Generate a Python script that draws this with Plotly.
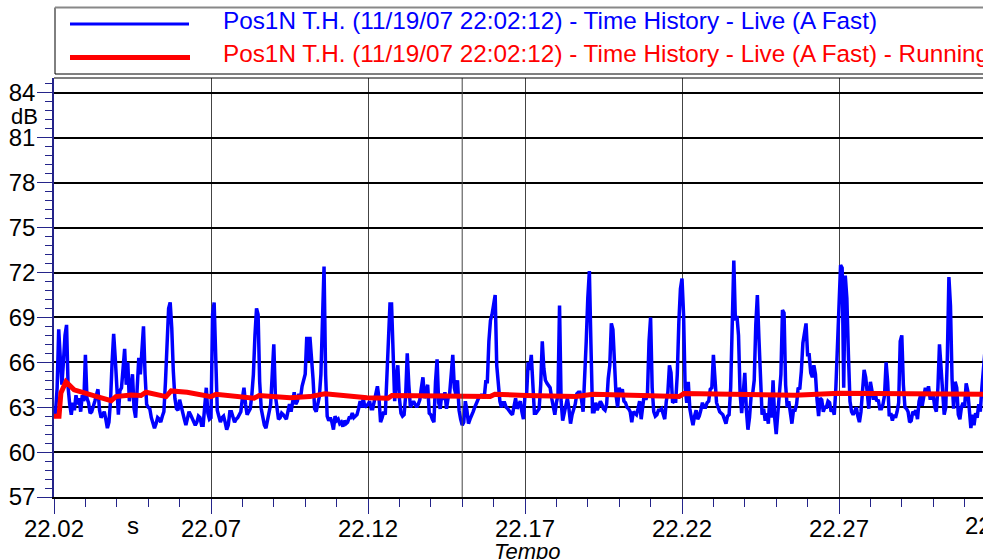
import plotly.graph_objects as go

# ---------------- data ----------------
SAMPLE_START = 22.020   # s
SAMPLE_STEP = 0.0005    # s, sampling interval of the time history

LIVE_DB = [
    62.3, 62.7, 64.3, 68.2, 66.3, 64.5, 66.0, 67.8, 68.5, 64.3,
    63.2, 62.5, 63.3, 62.8, 63.8, 63.2, 63.6, 62.7, 63.8, 63.4,
    66.5, 63.6, 63.3, 62.6, 62.7, 63.0, 63.4, 63.8, 64.2, 62.8,
    62.3, 62.5, 62.7, 62.2, 61.6, 62.0, 63.4, 66.0, 67.9, 66.3,
    63.8, 62.5, 64.1, 64.3, 65.6, 66.9, 64.5, 66.0, 63.4, 64.3,
    65.2, 62.9, 62.3, 64.3, 66.3, 65.2, 66.9, 68.4, 65.2, 63.2,
    63.0, 62.9, 62.3, 61.9, 61.6, 61.9, 62.3, 62.2, 62.0, 62.4,
    62.7, 64.7, 66.9, 69.6, 70.0, 68.3, 65.4, 63.6, 62.9, 62.8,
    63.5, 63.0, 62.5, 62.2, 61.8, 62.3, 62.7, 62.5, 62.3, 62.0,
    61.8, 62.0, 62.4, 62.3, 61.8, 61.8, 63.4, 64.3, 62.6, 62.2,
    62.3, 69.2, 70.0, 66.0, 62.8, 62.4, 62.0, 62.3, 62.4, 62.0,
    61.5, 61.8, 62.7, 62.7, 62.3, 62.0, 62.2, 62.3, 62.5, 62.7,
    63.6, 64.3, 63.2, 62.5, 62.7, 62.9, 63.8, 65.2, 67.8, 69.6,
    69.2, 64.7, 62.9, 62.2, 61.8, 61.6, 62.2, 62.7, 63.2, 65.2,
    67.2, 63.8, 62.7, 62.2, 62.3, 62.6, 62.5, 62.3, 62.2, 62.7,
    63.2,
    62.7, 63.6, 64.0, 63.2, 63.4, 63.9, 63.6, 64.4, 64.8, 65.2,
    67.7, 66.1, 67.7, 66.5, 64.9, 62.9, 62.7, 63.2, 63.7, 65.2,
    69.2, 72.4, 65.2, 62.4, 62.1, 62.3, 62.0, 61.5, 62.4, 62.1,
    62.2, 61.9, 62.0, 61.7, 62.1, 61.9, 62.0, 62.3, 62.3, 62.6,
    62.3, 62.4, 62.5, 62.9, 63.4, 63.0, 63.6, 63.0, 63.1, 63.2,
    63.4, 62.9, 62.9, 63.4, 63.8, 64.4, 63.6, 62.0, 62.3, 62.7,
    62.5, 65.2, 68.7, 69.9, 69.9, 65.8, 63.4, 64.9, 65.8, 63.6,
    62.6, 62.4, 62.5, 63.8, 66.6, 64.5, 63.0, 63.2, 63.4, 63.2,
    63.0, 63.2, 63.5, 64.3, 65.0, 63.6, 64.2, 64.5, 62.6, 62.5,
    62.2, 62.0, 64.7, 66.2, 63.3, 62.9, 63.9, 63.5, 64.0, 62.9,
    63.6, 63.9, 65.2, 66.5, 64.3, 63.8, 64.8, 62.8, 62.2, 61.8,
    62.0, 63.4, 62.8, 61.9, 62.2, 62.4, 62.7, 63.0, 63.3, 63.5,
    63.7, 63.8, 63.8, 63.6, 64.7, 64.7, 67.4, 68.8, 69.2, 70.0,
    70.5, 65.8, 64.7, 63.4, 63.0, 63.3, 63.3, 63.0, 62.9, 62.7,
    62.6, 62.5, 63.0, 63.6, 62.9, 63.1, 63.4, 62.7, 62.2, 63.8,
    63.8, 66.0, 65.5, 66.5, 64.1, 62.6, 62.6, 62.8, 62.9, 64.5,
    67.4, 65.6, 64.8, 64.6, 64.4, 64.3, 63.6, 63.0, 62.5, 63.3,
    63.8, 69.8, 63.4, 62.1, 62.6, 63.3, 63.6, 62.9, 61.9, 62.5,
    62.8, 63.2, 63.9, 64.0, 64.0, 63.5, 62.7, 64.6, 67.4, 70.3,
    72.1, 67.2, 62.7, 62.7, 63.3, 62.8, 63.2, 63.4, 63.2, 62.9,
    62.8, 63.2, 64.9, 65.8, 68.6, 68.2, 66.0, 63.8, 63.0, 64.3,
    64.0, 64.2, 63.4, 63.3, 63.0, 62.9, 62.7, 62.0, 62.7, 62.6,
    62.5, 62.9, 63.4, 62.2, 63.0, 63.9, 63.5, 63.9, 67.4, 69.0,
    64.3, 62.7, 62.4, 62.5, 62.8, 62.8, 62.9, 62.5, 62.2, 63.4,
    64.0, 65.8, 65.3, 63.3, 63.4, 63.4, 65.2, 68.7, 70.9, 71.6,
    69.2, 64.3, 63.3, 64.7, 62.9, 62.3, 61.8, 62.4, 62.8, 62.2,
    62.4, 62.8, 63.3, 63.0, 63.0, 63.3, 63.4, 64.2, 64.3, 66.5,
    64.6, 63.3, 63.0, 62.7, 62.6, 62.5, 62.2, 61.9, 62.4, 62.5,
    64.3, 69.4, 72.8, 68.8, 69.1, 67.8, 63.9, 62.6, 63.8, 65.3,
    62.8, 61.5, 62.3, 63.7, 63.9, 64.8, 68.5, 70.5, 67.6, 64.7,
    62.5, 62.9, 62.1, 62.6, 61.9, 63.9, 62.3, 64.8, 62.3, 61.2,
    62.5, 63.2, 65.2, 69.5, 69.3, 64.5, 63.0, 63.4, 62.5, 61.9,
    62.8, 62.8, 63.2, 64.3, 64.2, 65.4, 67.3, 68.0, 68.6, 66.5,
    66.5, 65.3, 65.0, 65.8, 65.2, 63.5, 62.4, 63.6, 63.5, 62.7,
    63.0, 63.0, 63.4, 63.3, 62.7, 62.9, 62.5, 64.3, 66.7, 69.5,
    72.5, 72.3, 64.3, 71.8, 70.3, 66.5, 63.4, 62.7, 62.5, 62.7,
    63.0, 62.4, 62.0, 62.7, 63.8, 65.5, 65.0, 63.8, 62.9, 64.7,
    64.2, 63.5, 64.0, 63.4, 63.5, 62.9, 62.9, 63.2, 63.8, 66.0,
    64.7, 62.4, 62.6, 62.1, 62.5, 62.3, 62.7, 63.3, 67.4, 67.8,
    64.5, 63.0, 62.9, 62.7, 62.0, 62.1, 62.7, 62.6, 62.8, 62.2,
    63.4, 63.8, 63.1, 63.6, 64.3, 63.8, 64.4, 63.6, 63.6, 63.8,
    63.0, 62.7, 64.3, 67.2, 65.7, 64.3, 62.5, 63.0, 66.3, 71.7,
    69.8, 64.9, 62.9, 64.7, 64.3, 62.5, 62.2, 63.0, 63.3, 63.0,
    64.6, 64.1, 62.4, 61.6, 62.5, 61.8, 62.6, 62.3, 63.2, 62.7,
    64.3, 66.0, 66.8,
]

RUNNING_T = [22.0200, 22.0216, 22.0222, 22.0238, 22.0264, 22.0296, 22.0337,
             22.0382, 22.0397, 22.0445, 22.0477, 22.0493, 22.0557, 22.0573,
             22.0624, 22.0700, 22.0716, 22.0837, 22.0853, 22.0952, 22.1015,
             22.1063, 22.1197, 22.1264, 22.1276, 22.1589, 22.1604, 22.1703,
             22.1862, 22.1917, 22.1980, 22.2108, 22.2191, 22.2206, 22.2455,
             22.2560, 22.2700, 22.2878, 22.3200]
RUNNING_DB = [62.4, 62.4, 63.96, 64.7, 64.16, 63.93, 63.71,
              63.44, 63.71, 63.82, 63.78, 64.0, 63.71, 64.09,
              64.0, 63.71, 63.87, 63.6, 63.78, 63.64, 63.71,
              63.9, 63.64, 63.6, 63.78, 63.71, 63.87, 63.78,
              63.71, 63.87, 63.82, 63.71, 63.71, 63.91, 63.82,
              63.8, 63.93, 63.93, 63.87]

CURSOR_T = 22.15
X_TICK_START = 22.02
X_TICK_STEP = 0.05
Y_TICK_STEP = 3
LEGEND_LIVE = "Pos1N T.H. (11/19/07 22:02:12) - Time History - Live (A Fast)"
LEGEND_RUN = "Pos1N T.H. (11/19/07 22:02:12) - Time History - Live (A Fast) - Running Leq"

# ---------------- figure ----------------
live_t = [SAMPLE_START + SAMPLE_STEP * i for i in range(len(LIVE_DB))]

FONT = "Liberation Sans, Arial, sans-serif"
NAVY = "#24248a"
W, H = 983, 559
ML, MR, MT, MB = 54, 0, 78, 62
pw, ph = W - ML - MR, H - MT - MB
XMAX = X_TICK_START + X_TICK_STEP * pw / 157.0
FS = 24
FS_LEG = 24.3


def px(xp):
    return (xp - ML) / pw


def py(yp):
    return (H - MB - yp) / ph


fig = go.Figure()
fig.add_trace(go.Scatter(x=live_t, y=LIVE_DB, mode="lines",
                         line=dict(color="#0000ff", width=3.5), showlegend=False))
fig.add_trace(go.Scatter(x=RUNNING_T, y=RUNNING_DB, mode="lines",
                         line=dict(color="#ff0000", width=5), showlegend=False))

fig.update_layout(
    width=W, height=H,
    margin=dict(l=ML, r=MR, t=MT, b=MB, pad=0),
    paper_bgcolor="white", plot_bgcolor="white",
    font=dict(family=FONT, size=FS, color="black"),
    showlegend=False,
)

fig.update_xaxes(
    range=[X_TICK_START, XMAX], tick0=X_TICK_START, dtick=X_TICK_STEP,
    tickformat=".2f", ticks="outside", ticklen=15, tickwidth=1, tickcolor=NAVY,
    showgrid=True, gridcolor="#444444", gridwidth=1, zeroline=False,
    showline=True, linecolor="black", linewidth=2,
    ticklabelstandoff=-6,
    tickfont=dict(family=FONT, size=FS, color="black"),
    minor=dict(tick0=X_TICK_START, dtick=0.01, ticks="outside", ticklen=8,
               tickwidth=1, tickcolor=NAVY, showgrid=False),
)
fig.update_yaxes(
    range=[57, 85], tick0=57, dtick=Y_TICK_STEP,
    ticks="outside", ticklen=15, tickwidth=1, tickcolor=NAVY,
    showgrid=True, gridcolor="black", gridwidth=2, zeroline=False,
    showline=True, linecolor=NAVY, linewidth=1.5,
    ticklabelstandoff=-3,
    tickfont=dict(family=FONT, size=FS, color="black"),
    minor=dict(tick0=57, dtick=0.6, ticks="outside", ticklen=7,
               tickwidth=1, tickcolor=NAVY, showgrid=False),
)

shapes = [
    # cursor line
    dict(type="line", xref="x", yref="paper", x0=CURSOR_T, x1=CURSOR_T, y0=0, y1=1,
         line=dict(color="#444444", width=1)),
    # plot top border
    dict(type="line", xref="paper", yref="paper", x0=0, x1=1.05, y0=1, y1=1,
         line=dict(color="black", width=1)),
    # legend frame
    dict(type="rect", xref="paper", yref="paper", x0=px(55), x1=1.05,
         y0=py(74), y1=py(7.5), line=dict(color="black", width=1)),
    dict(type="line", xref="paper", yref="paper", x0=px(55), x1=1.05,
         y0=py(7.5), y1=py(7.5), line=dict(color="#888888", width=2)),
    # legend symbols
    dict(type="line", xref="paper", yref="paper", x0=px(70), x1=px(189),
         y0=py(24), y1=py(24), line=dict(color="#0000ff", width=3)),
    dict(type="line", xref="paper", yref="paper", x0=px(70), x1=px(190),
         y0=py(57.5), y1=py(57.5), line=dict(color="#ff0000", width=5)),
]
fig.update_layout(shapes=shapes)

ann = [
    dict(text=LEGEND_LIVE, xref="paper", yref="paper", x=px(221), y=py(20.5),
         xanchor="left", yanchor="middle", showarrow=False,
         font=dict(family=FONT, size=FS_LEG, color="#0000ff")),
    dict(text=LEGEND_RUN, xref="paper", yref="paper", x=px(221), y=py(54),
         xanchor="left", yanchor="middle", showarrow=False,
         font=dict(family=FONT, size=FS_LEG, color="#ff0000")),
    dict(text="dB", xref="paper", yref="paper", x=px(40), y=py(116.5),
         xanchor="right", yanchor="middle", showarrow=False,
         font=dict(family=FONT, size=FS - 2, color="black")),
    dict(text="s", xref="paper", yref="paper", x=px(132.5), y=py(525.5),
         xanchor="center", yanchor="middle", showarrow=False,
         font=dict(family=FONT, size=FS, color="black")),
    dict(text="22.32", xref="paper", yref="paper", x=px(995), y=py(525.5),
         xanchor="center", yanchor="middle", showarrow=False,
         font=dict(family=FONT, size=FS, color="black")),
    dict(text="<i>Tempo</i>", xref="paper", yref="paper", x=px(527), y=py(551),
         xanchor="center", yanchor="middle", showarrow=False,
         font=dict(family=FONT, size=22, color="black")),
]
fig.update_layout(annotations=ann)

fig.write_html("out.html", config={"displayModeBar": False},
               post_script="document.body.style.margin='0px';")
